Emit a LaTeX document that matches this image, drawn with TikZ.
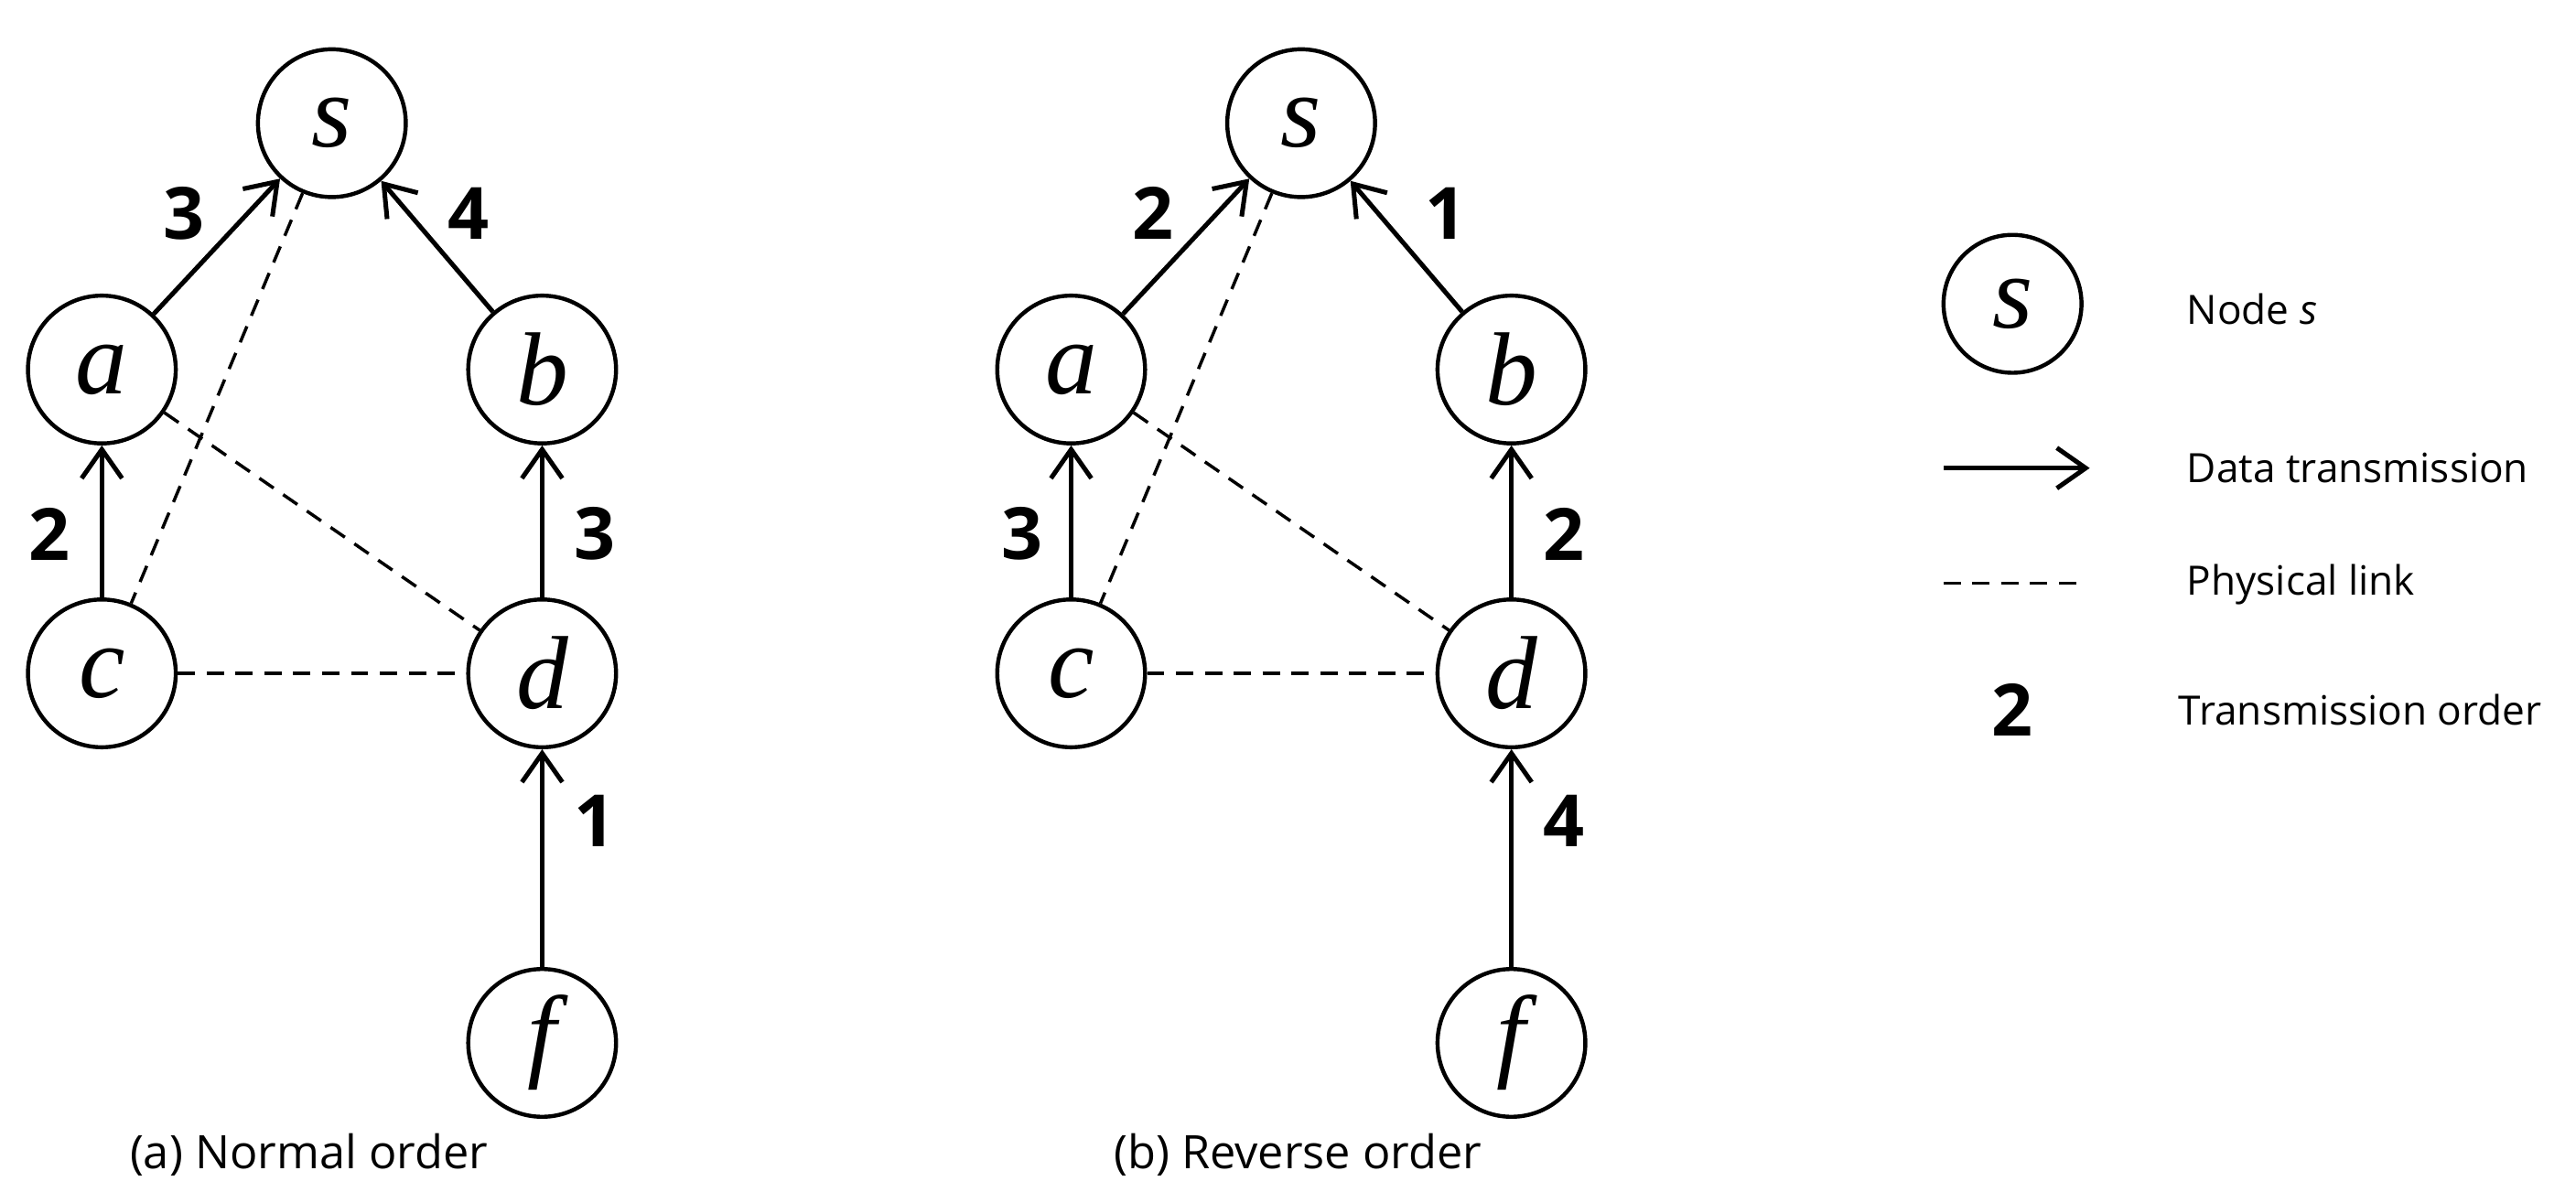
\documentclass[tikz,border=0pt]{standalone}
\usepackage{fontspec}
\setmainfont{Liberation Serif}
\newfontfamily\sans{Open Sans}
\usetikzlibrary{arrows.meta}
\begin{document}
\begin{tikzpicture}[x=0.02cm,y=-0.02cm,
  nd/.style={circle,draw,line width=1.4pt,minimum size=1.8cm,inner sep=0pt,font=\fontsize{36}{40}\selectfont\itshape},
  tx/.style={-{Straight Barb[length=10pt,width=14pt,line width=1.6pt]},line width=1.6pt},
  pl/.style={dashed,line width=1.1pt,dash pattern=on 6pt off 4pt},
  lb/.style={font=\sans\bfseries\fontsize{25}{28}\selectfont},
  tt/.style={font=\sans\fontsize{14}{16}\selectfont,anchor=west},
  captxt/.style={font=\sans\fontsize{16}{18}\selectfont}]
\useasboundingbox (0,0) rectangle (1568,732);
\foreach \p/\o in {A/0,B/590}{
  \node[nd] (s\p) at (202+\o,75) {s};
  \node[nd] (a\p) at (62+\o,225) {a};
  \node[nd] (b\p) at (330+\o,225) {b};
  \node[nd] (c\p) at (62+\o,410) {c};
  \node[nd] (d\p) at (330+\o,410) {d};
  \node[nd] (f\p) at (330+\o,635) {f};
  \draw[pl] (s\p) -- (c\p);
  \draw[pl] (a\p) -- (d\p);
  \draw[pl] (c\p) -- (d\p);
  \draw[tx] (a\p) -- (s\p);
  \draw[tx] (b\p) -- (s\p);
  \draw[tx] (c\p) -- (a\p);
  \draw[tx] (d\p) -- (b\p);
  \draw[tx] (f\p) -- (d\p);
}
\node[lb] (l1) at (112,130) {3};
\node[lb] (l2) at (285,130) {4};
\node[lb] (l3) at (30,325) {2};
\node[lb] (l4) at (362,325) {3};
\node[lb] (l5) at (362,500) {1};
\node[lb] (m1) at (702,130) {2};
\node[lb] (m2) at (880,130) {1};
\node[lb] (m3) at (622,325) {3};
\node[lb] (m4) at (952,325) {2};
\node[lb] (m5) at (952,500) {4};
\node[captxt] (ca) at (188,703) {(a) Normal order};
\node[captxt] (cb) at (790,703) {(b) Reverse order};
\node[nd,minimum size=1.68cm] (ls) at (1225,185) {s};
\coordinate (e1) at (1183,285); \coordinate (e2) at (1272,285);
\draw[tx] (e1) -- (e2);
\coordinate (p1) at (1183,355); \coordinate (p2) at (1270,355);
\draw[pl] (p1) -- (p2);
\node[lb] (lo) at (1225,432) {2};
\node[tt] (t1) at (1325,188) {Node \textit{s}};
\node[tt] (t2) at (1325,285) {Data transmission};
\node[tt] (t3) at (1325,356) {Physical link};
\node[tt] (t4) at (1320,432) {Transmission order};
\end{tikzpicture}
\end{document}
